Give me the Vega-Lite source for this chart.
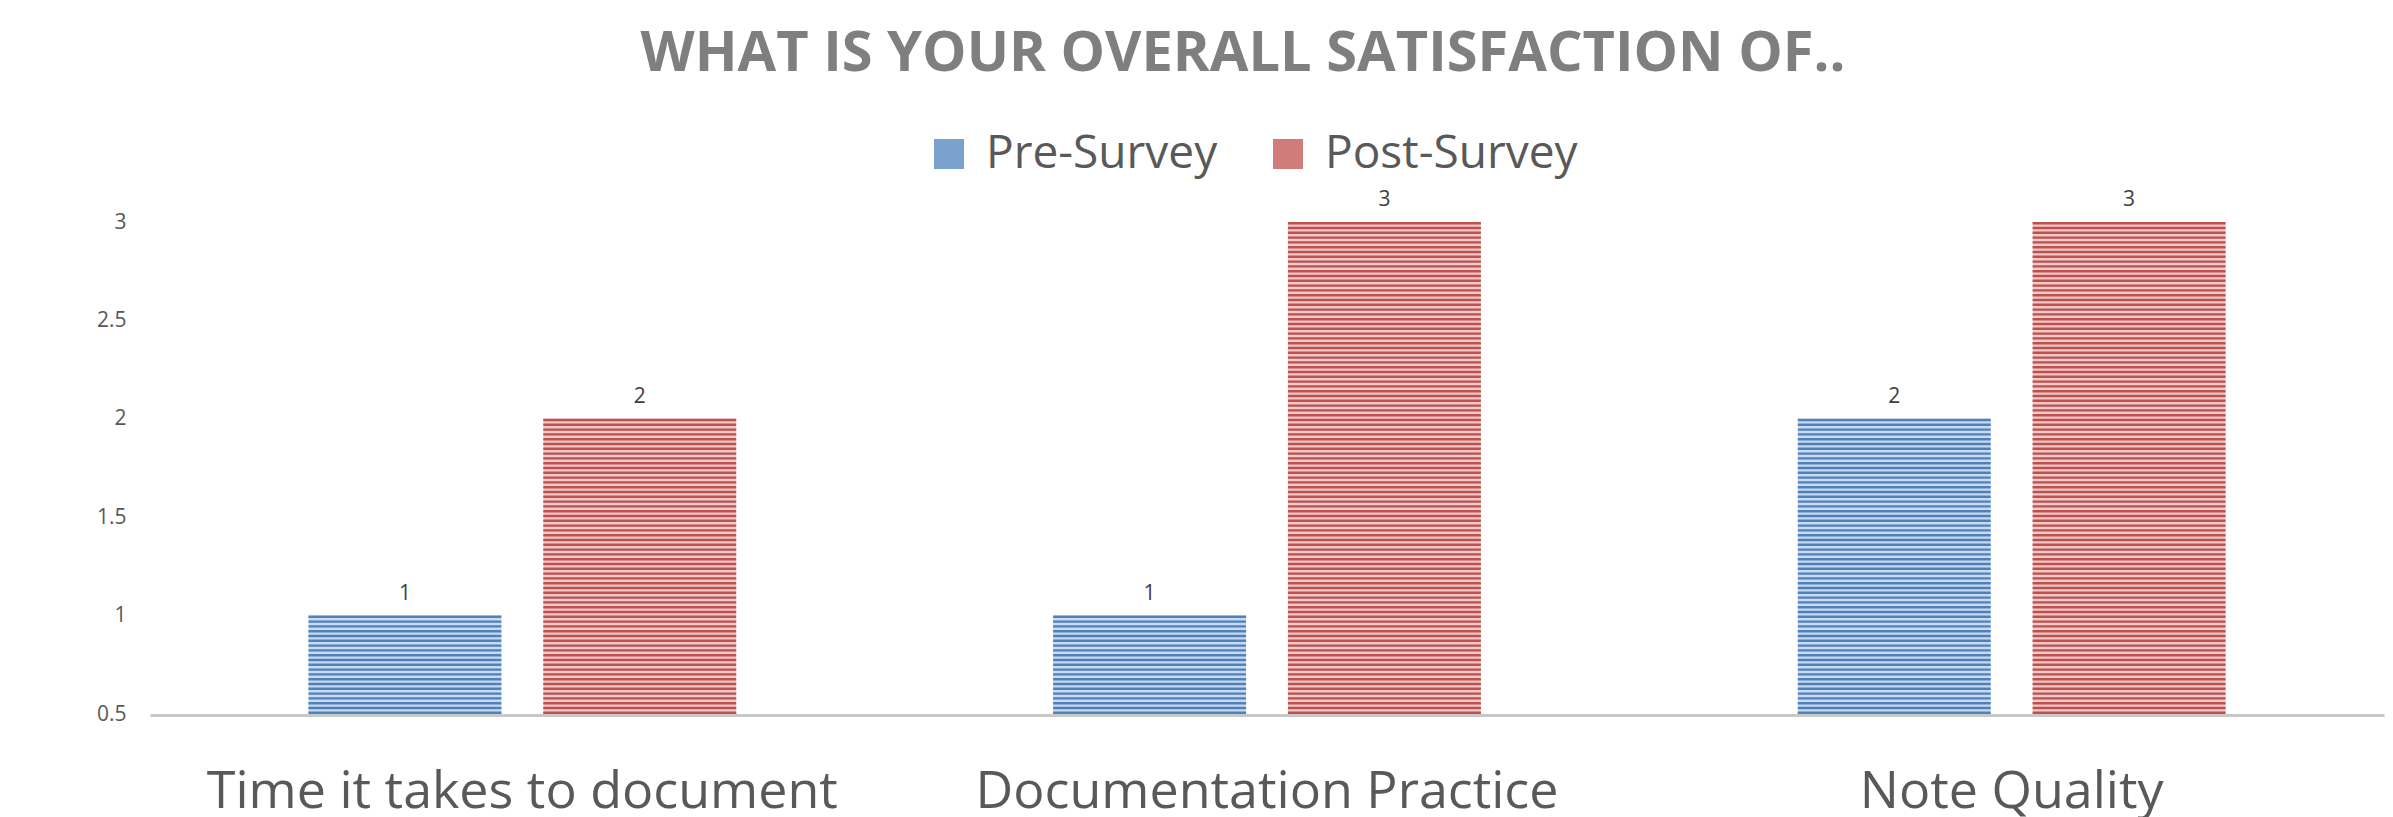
{
  "$schema": "https://vega.github.io/schema/vega-lite/v6.json",
  "width": 2234,
  "height": 492,
  "autosize": {"type": "none"},
  "padding": {"left": 150, "top": 222, "right": 9, "bottom": 103},
  "background": "white",
  "title": {
    "text": "WHAT IS YOUR OVERALL SATISFACTION OF..",
    "font": "Open Sans",
    "fontWeight": "bold",
    "fontSize": 56,
    "color": "#7f7f7f",
    "anchor": "middle",
    "baseline": "alphabetic",
    "offset": 52,
    "dy": 53,
    "dx": -24
  },
  "config": {"view": {"stroke": null}},
  "data": {
    "values": [
      {"item": "Time it takes to document", "survey": "Pre-Survey", "score": 1},
      {"item": "Time it takes to document", "survey": "Post-Survey", "score": 2},
      {"item": "Documentation Practice", "survey": "Pre-Survey", "score": 1},
      {"item": "Documentation Practice", "survey": "Post-Survey", "score": 3},
      {"item": "Note Quality", "survey": "Pre-Survey", "score": 2},
      {"item": "Note Quality", "survey": "Post-Survey", "score": 3}
    ]
  },
  "encoding": {
    "x": {
      "field": "item",
      "type": "nominal",
      "sort": ["Time it takes to document", "Documentation Practice", "Note Quality"],
      "scale": {"paddingInner": 0, "paddingOuter": 0},
      "axis": {
        "title": null,
        "domainColor": "#c8c8c8",
        "domainWidth": 3,
        "offset": 1,
        "ticks": false,
        "tickSize": 0,
        "labelFont": "Open Sans",
        "labelFontSize": 52,
        "labelColor": "#595959",
        "labelPadding": 51,
        "labelAngle": 0,
        "labelLimit": 0
      }
    },
    "xOffset": {
      "field": "survey",
      "type": "nominal",
      "sort": ["Pre-Survey", "Post-Survey"],
      "scale": {"paddingInner": 0.179, "paddingOuter": 0.675}
    },
    "y": {
      "field": "score",
      "type": "quantitative",
      "scale": {"domain": [0.5, 3], "zero": false, "nice": false},
      "axis": {
        "title": null,
        "values": [0.5, 1, 1.5, 2, 2.5, 3],
        "format": "~g",
        "domain": false,
        "ticks": false,
        "tickSize": 0,
        "grid": false,
        "labelFont": "Open Sans",
        "labelFontSize": 21,
        "labelColor": "#595959",
        "labelPadding": 24,
        "labelFlush": false,
        "labelOverlap": false
      }
    }
  },
  "layer": [
    {
      "mark": {"type": "bar", "fillOpacity": 0.3},
      "encoding": {
        "y2": {"datum": 0.5},
        "color": {
          "field": "survey",
          "type": "nominal",
          "sort": ["Pre-Survey", "Post-Survey"],
          "scale": {"domain": ["Pre-Survey", "Post-Survey"], "range": ["#4f81bd", "#c0504d"]},
          "legend": {
            "title": null,
            "orient": "none",
            "legendX": 776,
            "legendY": -91,
            "direction": "horizontal",
            "symbolType": "square",
            "symbolSize": 900,
            "labelFont": "Open Sans",
            "labelFontSize": 46,
            "labelColor": "#595959",
            "labelOffset": 14,
            "labelLimit": 0,
            "columnPadding": 47,
            "encode": {
              "symbols": {
                "update": {
                  "fillOpacity": {"value": 0.75},
                  "opacity": {"value": 1},
                  "strokeWidth": {"value": 0}
                }
              }
            }
          }
        }
      }
    },
    {
      "mark": {"type": "rule", "strokeWidth": 193, "strokeDash": [2.4, 2.4]},
      "encoding": {
        "y2": {"datum": 0.5},
        "color": {
          "field": "survey",
          "type": "nominal",
          "sort": ["Pre-Survey", "Post-Survey"],
          "scale": {"domain": ["Pre-Survey", "Post-Survey"], "range": ["#4f81bd", "#c0504d"]}
        }
      }
    },
    {
      "mark": {"type": "text", "font": "Open Sans", "fontSize": 21, "color": "#404040", "baseline": "alphabetic", "dy": -16},
      "encoding": {
        "text": {"field": "score", "type": "quantitative"}
      }
    }
  ]
}
